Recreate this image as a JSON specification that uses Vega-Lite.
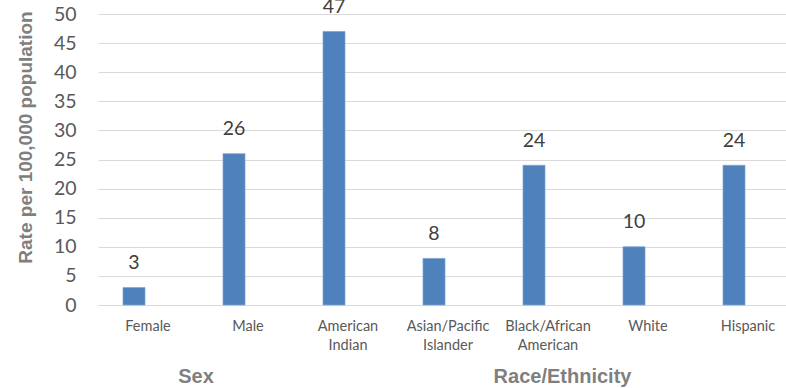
{
  "$schema": "https://vega.github.io/schema/vega-lite/v6.json",
  "width": 688,
  "height": 291,
  "autosize": {"type": "none"},
  "padding": {"left": 98, "top": 14, "right": 0, "bottom": 83},
  "background": "white",
  "config": {
    "view": {"stroke": null},
    "axisX": {
      "title": null, "ticks": false, "domain": true, "domainColor": "#d9d9d9", "domainWidth": 1,
      "labelAngle": 0, "labelFont": "Lato", "labelFontSize": 14.5, "labelColor": "#595959",
      "labelPadding": 14, "labelLineHeight": 19, "labelAlign": "center"
    },
    "axisY": {
      "labelOverlap": false,
      "grid": true, "gridColor": "#d9d9d9", "gridWidth": 1,
      "ticks": false, "domain": false,
      "labelFont": "Lato", "labelFontSize": 19.5, "labelColor": "#595959", "labelPadding": 22,
      "titleFont": "Liberation Sans", "titleFontSize": 19, "titleFontWeight": "bold", "titleColor": "#7f7f7f",
      "titleAngle": 270, "titleX": -73, "titleY": 123, "titleAlign": "center", "titleBaseline": "middle"
    }
  },
  "datasets": {
    "rates": [
      {"category": "Female", "group": "Sex", "rate": 3},
      {"category": "Male", "group": "Sex", "rate": 26},
      {"category": "American Indian", "group": "Race/Ethnicity", "rate": 47},
      {"category": "Asian/Pacific Islander", "group": "Race/Ethnicity", "rate": 8},
      {"category": "Black/African American", "group": "Race/Ethnicity", "rate": 24},
      {"category": "White", "group": "Race/Ethnicity", "rate": 10},
      {"category": "Hispanic", "group": "Race/Ethnicity", "rate": 24}
    ]
  },
  "layer": [
    {
      "data": {"name": "rates"},
      "mark": {"type": "bar", "width": 22, "xOffset": -14, "color": "#4F81BD", "stroke": "#7BA3D4", "strokeWidth": 0.75},
      "encoding": {
        "x": {
          "field": "category", "type": "nominal", "sort": null, "title": null,
          "scale": {"range": [0, 700], "paddingInner": 0, "paddingOuter": 0},
          "axis": {"labelExpr": "datum.value == 'American Indian' ? ['American','Indian'] : datum.value == 'Asian/Pacific Islander' ? ['Asian/Pacific','Islander'] : datum.value == 'Black/African American' ? ['Black/African','American'] : datum.value"}
        },
        "y": {
          "field": "rate", "type": "quantitative", "title": "Rate per 100,000 population",
          "scale": {"domain": [0, 50], "nice": false, "zero": true},
          "axis": {"values": [0, 5, 10, 15, 20, 25, 30, 35, 40, 45, 50]}
        }
      }
    },
    {
      "data": {"name": "rates"},
      "mark": {"type": "text", "xOffset": -14, "dy": -18.5, "baseline": "alphabetic", "align": "center", "font": "Lato", "fontSize": 19.5, "color": "#404040"},
      "encoding": {
        "x": {"field": "category", "type": "nominal", "sort": null, "title": null,
          "axis": {"labelExpr": "datum.value == 'American Indian' ? ['American','Indian'] : datum.value == 'Asian/Pacific Islander' ? ['Asian/Pacific','Islander'] : datum.value == 'Black/African American' ? ['Black/African','American'] : datum.value"}},
        "y": {"field": "rate", "type": "quantitative", "title": "Rate per 100,000 population",
          "axis": {"values": [0, 5, 10, 15, 20, 25, 30, 35, 40, 45, 50]}},
        "text": {"field": "rate", "type": "quantitative"}
      }
    },
    {
      "data": {"values": [{"group": "Sex"}]},
      "mark": {"type": "text", "baseline": "alphabetic", "align": "center", "font": "Liberation Sans", "fontSize": 20, "fontWeight": "bold", "color": "#7f7f7f"},
      "encoding": {
        "x": {"datum": "Female", "bandPosition": 0.98, "title": null,
          "axis": {"labelExpr": "datum.value == 'American Indian' ? ['American','Indian'] : datum.value == 'Asian/Pacific Islander' ? ['Asian/Pacific','Islander'] : datum.value == 'Black/African American' ? ['Black/African','American'] : datum.value"}},
        "y": {"datum": -13.4, "title": "Rate per 100,000 population",
          "axis": {"values": [0, 5, 10, 15, 20, 25, 30, 35, 40, 45, 50]}},
        "text": {"field": "group", "type": "nominal"}
      }
    },
    {
      "data": {"values": [{"group": "Race/Ethnicity"}]},
      "mark": {"type": "text", "baseline": "alphabetic", "align": "center", "font": "Liberation Sans", "fontSize": 20, "fontWeight": "bold", "color": "#7f7f7f"},
      "encoding": {
        "x": {"datum": "Black/African American", "bandPosition": 0.645, "title": null,
          "axis": {"labelExpr": "datum.value == 'American Indian' ? ['American','Indian'] : datum.value == 'Asian/Pacific Islander' ? ['Asian/Pacific','Islander'] : datum.value == 'Black/African American' ? ['Black/African','American'] : datum.value"}},
        "y": {"datum": -13.4, "title": "Rate per 100,000 population",
          "axis": {"values": [0, 5, 10, 15, 20, 25, 30, 35, 40, 45, 50]}},
        "text": {"field": "group", "type": "nominal"}
      }
    }
  ]
}
